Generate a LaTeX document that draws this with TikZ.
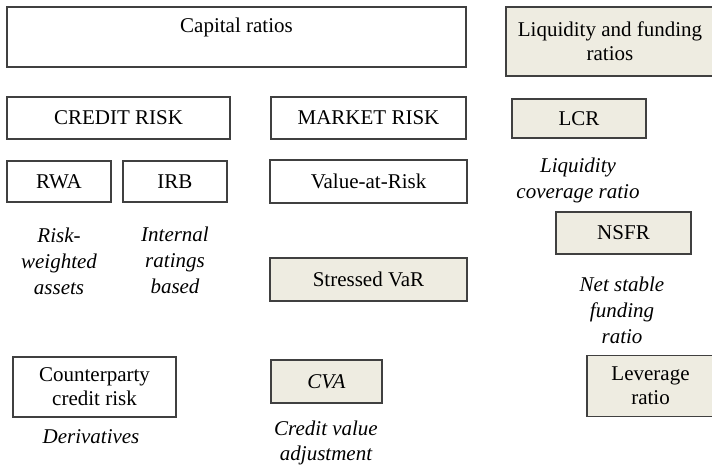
\documentclass[tikz,border=0pt]{standalone}
\usepackage{fontspec}
\setmainfont{Liberation Serif}
\definecolor{beige}{HTML}{EEECE1}
\definecolor{edge}{HTML}{404040}
\tikzset{
  box/.style={draw=edge, line width=1.2pt, inner sep=0pt, align=center},
  tan/.style={box, fill=beige},
  lbl/.style={inner sep=0pt, align=center, font=\fontsize{21}{26}\selectfont\itshape},
}
\begin{document}
\begin{tikzpicture}[x=1pt,y=-1pt,
  every node/.append style={font=\fontsize{21}{24}\selectfont}]
\useasboundingbox (0,0) rectangle (712,467);
\fill[white] (0,0) rectangle (712,467);
% top row
\node[box, minimum width=459pt, minimum height=60pt] (cap) at (236.5,37) {};
\node[inner sep=0pt] (captext) at (236.5,27) {Capital ratios};
\node[tan, minimum width=208pt, minimum height=69pt] (liq) at (610,41.5) {Liquidity and funding\\ratios};
% second row
\node[box, minimum width=223pt, minimum height=42pt] (credit) at (118.5,118) {CREDIT RISK};
\node[box, minimum width=195pt, minimum height=42pt] (market) at (368.5,118) {MARKET RISK};
\node[tan, minimum width=134pt, minimum height=39pt] (lcr) at (579,118.5) {LCR};
% third row
\node[box, minimum width=104pt, minimum height=41pt] (rwa) at (59,181.5) {RWA};
\node[box, minimum width=104pt, minimum height=41pt] (irb) at (175,181.5) {IRB};
\node[box, minimum width=197pt, minimum height=43pt] (var) at (368.5,181.5) {Value-at-Risk};
\node[lbl] (lcrl) at (578,180) {Liquidity\\coverage ratio};
\node[tan, minimum width=135pt, minimum height=42pt] (nsfr) at (623.5,233) {NSFR};
\node[lbl] (rwal) at (59,261) {Risk-\\weighted\\assets};
\node[lbl] (irbl) at (175,260) {Internal\\ratings\\based};
\node[tan, minimum width=197pt, minimum height=43pt] (svar) at (368.5,279.5) {Stressed VaR};
\node[lbl] (nsfrl) at (622,310) {Net stable\\funding\\ratio};
% bottom row
\node[box, minimum width=163pt, minimum height=60pt] (ccr) at (94.5,387) {Counterparty\\credit risk};
\node[tan, minimum width=111pt, minimum height=43pt, font=\fontsize{21}{24}\selectfont\itshape] (cva) at (326.5,381.5) {CVA};
\node[tan, minimum width=127pt, minimum height=61pt] (lev) at (650.5,386) {Leverage\\ratio};
\node[lbl] (ccrl) at (91,437) {Derivatives};
\node[lbl, font=\fontsize{21}{25}\selectfont\itshape] (cval) at (326,443) {Credit value\\adjustment};
\end{tikzpicture}
\end{document}
